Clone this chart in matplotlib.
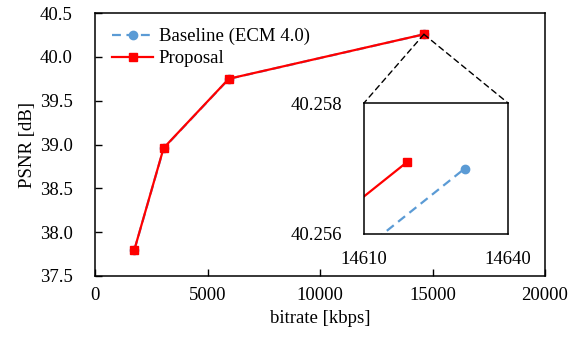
import matplotlib
matplotlib.use("Agg")
import matplotlib.pyplot as plt
from matplotlib.patches import ConnectionPatch

# Data ########################################################################

base_rate = [1752, 3052, 5955, 14631]
base_psnr = [37.799, 38.958, 39.749, 40.2570]
prop_rate = [1750, 3050, 5950, 14619]
prop_psnr = [37.800, 38.960, 39.750, 40.2571]

x_ticks = [0, 5000, 10000, 15000, 20000]
y_ticks = [37.5, 38.0, 38.5, 39.0, 39.5, 40.0, 40.5]
zoom_x = [14610, 14640]
zoom_y = [40.256, 40.258]

BLUE = "#5B9BD5"
RED = "#FF0000"

plt.rcParams["font.family"] = ["Liberation Serif", "DejaVu Serif"]
plt.rcParams["font.size"] = 13.5

W, H = 579, 338
fig = plt.figure(figsize=(W / 100, H / 100), dpi=100)

# Main axes ###################################################################

ax = fig.add_axes([95 / W, (H - 276) / H, 450 / W, 263 / H])
ax.plot(base_rate, base_psnr, color=BLUE, ls=(0, (4, 2.5)), lw=1.6,
        marker="o", ms=6, label="Baseline (ECM 4.0)")
ax.plot(prop_rate, prop_psnr, color=RED, lw=1.6,
        marker="s", ms=6, label="Proposal")
ax.set_xlim(x_ticks[0], x_ticks[-1])
ax.set_ylim(y_ticks[0], y_ticks[-1])
ax.set_xticks(x_ticks)
ax.set_yticks(y_ticks)
ax.set_yticklabels([f"{v:.1f}" for v in y_ticks])
ax.tick_params(direction="in", length=5, width=1)
ax.tick_params(axis="y", pad=16)
ax.tick_params(axis="x", pad=8)
ax.set_xlabel("bitrate [kbps]", labelpad=4)
ax.set_ylabel("PSNR [dB]", labelpad=3)
for s in ax.spines.values():
    s.set_linewidth(1.1)
ax.legend(loc="upper left", frameon=False, handlelength=2.2,
          handletextpad=0.28, labelspacing=0.25,
          borderaxespad=0.3, bbox_to_anchor=(4 / 450, 1 - 2 / 263))

# Inset #######################################################################

axi = fig.add_axes([364 / W, (H - 234) / H, 144 / W, 131 / H])
axi.plot(base_rate, base_psnr, color=BLUE, ls=(0, (4, 2.5)), lw=1.6,
         marker="o", ms=6)
axi.plot(prop_rate, prop_psnr, color=RED, lw=1.6, marker="s", ms=6)
axi.set_xlim(*zoom_x)
axi.set_ylim(*zoom_y)
axi.set_xticks(zoom_x)
axi.set_yticks(zoom_y)
axi.set_yticklabels([f"{v:.3f}" for v in zoom_y])
axi.tick_params(length=0)
axi.tick_params(axis="x", pad=12.5)
axi.tick_params(axis="y", pad=16)
for s in axi.spines.values():
    s.set_linewidth(1.1)

# Connectors from the zoomed point to the inset corners
for cx in (0, 1):
    con = ConnectionPatch(xyA=(prop_rate[-1], prop_psnr[-1]), coordsA=ax.transData,
                          xyB=(cx, 1), coordsB=axi.transAxes,
                          color="black", ls=(0, (4, 3)), lw=1.0)
    fig.add_artist(con)

fig.savefig("out.png", dpi=100)
